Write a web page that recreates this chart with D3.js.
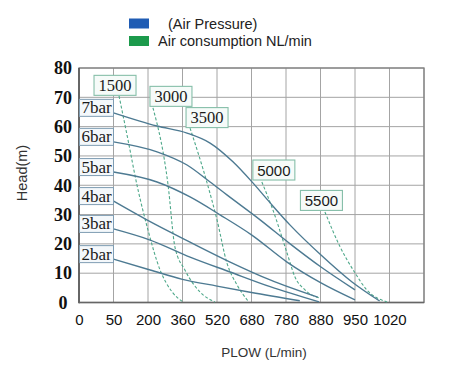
<!DOCTYPE html>
<html><head><meta charset="utf-8">
<script src="https://cdn.jsdelivr.net/npm/d3@7"></script>
<style>html,body{margin:0;padding:0;background:#fff;}svg{display:block;}</style>
</head><body>
<svg id="chart" width="474" height="376"></svg>
<script>
// ---- data ----
const xTicks = [0, 50, 200, 360, 520, 680, 780, 880, 950, 1020];
const xEnd = 1090; // unlabeled last gridline
const yTicks = [0, 10, 20, 30, 40, 50, 60, 70, 80];

const pressureNames = ["7bar", "6bar", "5bar", "4bar", "3bar", "2bar"];
const p7 = [[50,64.7],[242,60.2],[381,57.8],[488,54.4],[594,48.0],[684,40.8],[734,34.0],[792,26.4],[881,16.2],[944,7.0],[1000,0.5]];
const p6 = [[50,54.8],[242,51.4],[381,46.9],[488,41.1],[566,36.7],[705,28.2],[792,20.0],[881,12.1],[950,4.3]];
const p5 = [[50,44.5],[242,41.1],[395,36.0],[534,29.9],[681,23.0],[783,13.8],[881,6.7],[950,0.9]];
const p4 = [[50,34.6],[195,28.2],[395,20.6],[581,13.8],[734,7.7],[872,1.8]];
const p3 = [[50,25.1],[210,21.3],[395,15.5],[581,10.4],[734,5.4],[876,0.2]];
const p2 = [[50,14.8],[210,11.1],[360,7.9],[520,5.6],[680,3.4],[820,0.6]];

const consNames = ["1500", "3000", "3500", "5000", "5500"];
const c1500 = [[74,70.5],[113,55.5],[152,40.1],[200,24.7],[256,11.1],[312,3.6],[362,0.2]];
const c3000 = [[223,66.4],[293,40.1],[325,18.9],[371,11.1],[441,3.6],[510,0.2]];
const c3500 = [[395,59.5],[474,40.8],[520,28.2],[566,13.5],[613,6.0],[664,0.5]];
const c5000 = [[710,41.1],[742,31.6],[783,16.9],[806,8.7],[835,4.3],[879,1.5]];
const c5500 = [[889,30.9],[920,18.9],[950,10.1],[974,4.3],[1015,0.2]];

const legendItems = ["(Air Pressure)", "Air consumption NL/min"];
const xTitle = "PLOW (L/min)";
const yTitle = "Head(m)";

// ---- drawing ----
const svg = d3.select("#chart");
const L = 79, R = 424, T = 68, B = 302.5;
const xDomain = xTicks.concat([xEnd]);
const x = d3.scaleLinear().domain(xDomain)
  .range(xDomain.map((d, i) => L + (R - L) * i / (xDomain.length - 1)));
const y = d3.scaleLinear().domain([0, 80]).range([B, T]);

// grid
const grid = svg.append("g");
grid.selectAll("line.v").data(xDomain).join("line")
  .attr("x1", d => x(d)).attr("x2", d => x(d)).attr("y1", T).attr("y2", B)
  .attr("stroke", "#a4a4a4").attr("stroke-width", 1);
grid.selectAll("line.h").data(yTicks).join("line")
  .attr("x1", L).attr("x2", R).attr("y1", d => y(d)).attr("y2", d => y(d))
  .attr("stroke", "#a4a4a4").attr("stroke-width", 1);
svg.append("rect").attr("x", L).attr("y", T).attr("width", R - L).attr("height", B - T)
  .attr("fill", "none").attr("stroke", "#808080").attr("stroke-width", 1.3);
svg.append("line").attr("x1", L).attr("x2", L).attr("y1", T).attr("y2", B + 0.7)
  .attr("stroke", "#555").attr("stroke-width", 1.5);
svg.append("line").attr("x1", L).attr("x2", R).attr("y1", B).attr("y2", B)
  .attr("stroke", "#666").attr("stroke-width", 1.5);

// axes labels
const xAxis = d3.axisBottom(x).tickValues(xTicks).tickSize(0).tickPadding(12).tickFormat(d => d);
const gx = svg.append("g").attr("transform", `translate(0,${B})`).call(xAxis);
gx.select(".domain").remove();
gx.selectAll("text").attr("font-family", "Liberation Sans, Arial, sans-serif")
  .attr("font-size", 15).attr("fill", "#111");

const yAxis = d3.axisLeft(y).tickValues(yTicks).tickSize(0).tickPadding(0);
const gy = svg.append("g").attr("transform", `translate(${L},0)`).call(yAxis);
gy.select(".domain").remove();
gy.selectAll("text").attr("x", 63 - L).attr("text-anchor", "middle")
  .attr("font-family", "Liberation Serif, Times New Roman, serif")
  .attr("font-size", 18).attr("font-weight", "bold").attr("fill", "#111");

svg.append("text").attr("x", 264).attr("y", 357).attr("text-anchor", "middle")
  .attr("font-family", "Liberation Sans, Arial, sans-serif").attr("font-size", 13.5)
  .attr("fill", "#333").text(xTitle);
svg.append("text").attr("transform", "translate(27,173) rotate(-90)").attr("text-anchor", "middle")
  .attr("font-family", "Liberation Sans, Arial, sans-serif").attr("font-size", 14.5)
  .attr("fill", "#333").text(yTitle);

// legend
const legColors = ["#1f5cb4", "#1c9a4c"];
const legY = [18.5, 36];
const legTx = [168, 158];
legendItems.forEach((t, i) => {
  svg.append("rect").attr("x", 129).attr("y", legY[i]).attr("width", 20).attr("height", 10)
    .attr("fill", legColors[i]);
  svg.append("text").attr("x", legTx[i]).attr("y", legY[i] + 10)
    .attr("font-family", "Liberation Sans, Arial, sans-serif").attr("font-size", 14.5)
    .attr("fill", "#222").text(t);
});

const line = d3.line().x(d => x(d[0])).y(d => y(d[1])).curve(d3.curveMonotoneX);

// air consumption dashed lines
const consSeries = [c1500, c3000, c3500, c5000, c5500];
svg.append("g").selectAll("path").data(consSeries).join("path")
  .attr("d", line).attr("fill", "none").attr("stroke", "#4ea88a")
  .attr("stroke-width", 1.1).attr("stroke-dasharray", "3,2");

// pressure lines
const pSeries = [p7, p6, p5, p4, p3, p2];
svg.append("g").selectAll("path").data(pSeries).join("path")
  .attr("d", line).attr("fill", "none").attr("stroke", "#4d7a92").attr("stroke-width", 1.4);

// pressure label boxes
pSeries.forEach((s, i) => {
  const cy = y(s[0][1]) - 5;
  svg.append("rect").attr("x", x(0) + 0.5).attr("y", cy - 8.5).attr("width", x(50) - x(0) - 0.5).attr("height", 17)
    .attr("fill", "#f4f8fb").attr("stroke", "#7f9db3").attr("stroke-width", 1);
  svg.append("text").attr("x", x(0) + 2.5).attr("y", cy + 5.5)
    .attr("font-family", "Liberation Serif, Times New Roman, serif").attr("font-size", 17)
    .attr("fill", "#1a1a1a").text(pressureNames[i]);
});

// consumption label boxes (offset of box centre from the line start, px)
const boxOff = [[-4, -10.5], [18, -11.5], [17, -10.5], [12, -12], [-3.5, -11.5]];
const consFont = ["Liberation Serif, serif", "Liberation Serif, serif", "Liberation Serif, serif",
  "Liberation Sans, Arial, sans-serif", "Liberation Sans, Arial, sans-serif"];
consSeries.forEach((s, i) => {
  const cx = x(s[0][0]) + boxOff[i][0], cy = y(s[0][1]) + boxOff[i][1];
  svg.append("rect").attr("x", cx - 21).attr("y", cy - 10).attr("width", 42).attr("height", 20)
    .attr("fill", "#f6fbf9").attr("stroke", "#86bfa9").attr("stroke-width", 1.1);
  svg.append("text").attr("x", cx).attr("y", cy + 5.5).attr("text-anchor", "middle")
    .attr("font-family", consFont[i]).attr("font-size", i < 3 ? 16.5 : 15)
    .attr("fill", "#1a1a1a").text(consNames[i]);
});
</script>
</body></html>
